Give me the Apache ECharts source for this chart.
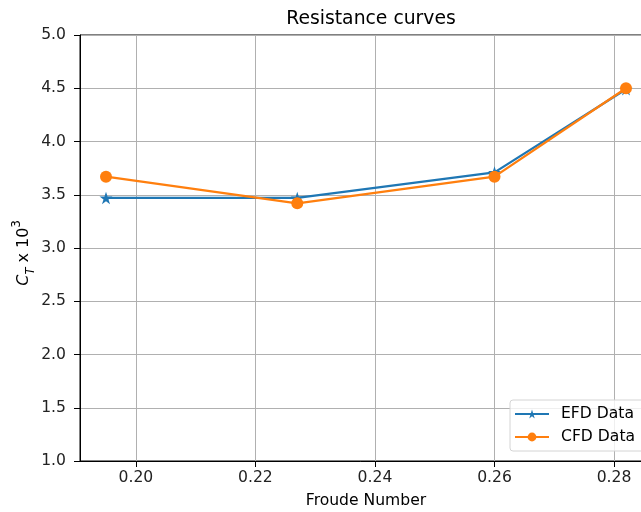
<!DOCTYPE html>
<html>
<head>
<meta charset="utf-8">
<script src="https://cdn.jsdelivr.net/npm/echarts@6/dist/echarts.min.js"></script>
<style>
  html, body { margin: 0; padding: 0; background: #fff; overflow: hidden; }
  #chart { width: 641px; height: 512px; }
</style>
</head>
<body>
<div id="chart"></div>
<script>
// Froude numbers of the test points
const froude = [0.195, 0.227, 0.260, 0.282];
// Total resistance coefficient (x 10^3)
const efdData = [3.47, 3.47, 3.71, 4.49];
const cfdData = [3.67, 3.42, 3.67, 4.50];
// Tick values
const xTicks = [0.20, 0.22, 0.24, 0.26, 0.28];
const yTicks = [1.0, 1.5, 2.0, 2.5, 3.0, 3.5, 4.0, 4.5, 5.0];

// 5% padding on each side of the x data range
const pad = (froude[froude.length - 1] - froude[0]) * 0.05;
const STAR = 'path://M100 0 L122.45 69.1 L195.1 69.1 L136.3 111.8 L158.8 180.9 L100 138.2 L41.2 180.9 L63.7 111.8 L4.9 69.1 L77.55 69.1 Z';
const FONT = 'DejaVu Sans';
const FS = 15.6;

const chart = echarts.init(document.getElementById('chart'));
chart.setOption({
  animation: false,
  textStyle: { fontFamily: FONT },
  title: {
    text: 'Resistance curves',
    left: 366, top: 5, textAlign: 'center',
    textStyle: { fontFamily: FONT, fontSize: 18.8, fontWeight: 'normal', color: '#000' }
  },
  // right edge of the axes sits just past the canvas edge
  grid: {
    left: 80, right: -11, top: 35, bottom: 51,
    outerBoundsMode: 'none',
    show: true, borderColor: '#000', borderWidth: 1, containLabel: false
  },
  legend: {
    left: 510, top: 400,
    orient: 'vertical',
    padding: [6, 20, 6, 4],
    itemGap: 7,
    itemWidth: 34, itemHeight: 11,
    backgroundColor: 'rgba(255,255,255,0.8)',
    borderColor: '#d4d4d4', borderWidth: 1, borderRadius: 3,
    textStyle: { fontFamily: FONT, fontSize: FS, color: '#000', padding: [0, 0, 0, 7] },
    data: ['EFD Data', 'CFD Data']
  },
  xAxis: {
    type: 'value',
    min: froude[0] - pad,
    max: froude[froude.length - 1] + pad,
    name: 'Froude Number',
    nameLocation: 'middle',
    nameGap: 32,
    nameMoveOverlap: false,
    nameTextStyle: { fontFamily: FONT, fontSize: FS, color: '#000' },
    axisLine: { show: true, onZero: false, lineStyle: { color: '#000', width: 1 } },
    axisTick: { show: true, length: 6, customValues: xTicks, lineStyle: { color: '#000' } },
    axisLabel: {
      customValues: xTicks, margin: 9,
      fontFamily: FONT, fontSize: FS, color: '#222',
      formatter: v => v.toFixed(2)
    },
    splitLine: { show: true, lineStyle: { color: '#b0b0b0', width: 1 } }
  },
  yAxis: {
    type: 'value',
    min: yTicks[0], max: yTicks[yTicks.length - 1], interval: 0.5,
    name: '{c|C}{s|T}{b| x 10}{p|3}',
    nameLocation: 'middle',
    nameRotate: 90,
    nameGap: 43,
    nameMoveOverlap: false,
    nameTextStyle: {
      fontFamily: FONT, color: '#000', padding: [0, 10, 0, 0],
      rich: {
        c: { fontFamily: FONT, fontStyle: 'italic', fontSize: 16, color: '#000', verticalAlign: 'middle', lineHeight: 26 },
        b: { fontFamily: FONT, fontSize: 16, color: '#000', verticalAlign: 'middle', lineHeight: 26 },
        s: { fontFamily: FONT, fontStyle: 'italic', fontSize: 11.5, color: '#000', verticalAlign: 'bottom', lineHeight: 16 },
        p: { fontFamily: FONT, fontSize: 11.5, color: '#000', verticalAlign: 'top', lineHeight: 14 }
      }
    },
    axisLine: { show: true, lineStyle: { color: '#000', width: 1 } },
    axisTick: { show: true, length: 6, lineStyle: { color: '#000' } },
    axisLabel: {
      margin: 14, fontFamily: FONT, fontSize: FS, color: '#222',
      formatter: v => v.toFixed(1)
    },
    splitLine: { show: true, lineStyle: { color: '#b0b0b0', width: 1 } }
  },
  series: [
    {
      name: 'EFD Data',
      type: 'line',
      data: froude.map((f, i) => [f, efdData[i]]),
      color: '#1f77b4',
      lineStyle: { width: 2.3 },
      symbol: STAR, symbolSize: [13, 12.4],
      itemStyle: { color: '#1f77b4' },
      z: 2
    },
    {
      name: 'CFD Data',
      type: 'line',
      data: froude.map((f, i) => [f, cfdData[i]]),
      color: '#ff7f0e',
      lineStyle: { width: 2.3 },
      symbol: 'circle', symbolSize: 12,
      itemStyle: { color: '#ff7f0e' },
      z: 3
    }
  ]
});
</script>
</body>
</html>
